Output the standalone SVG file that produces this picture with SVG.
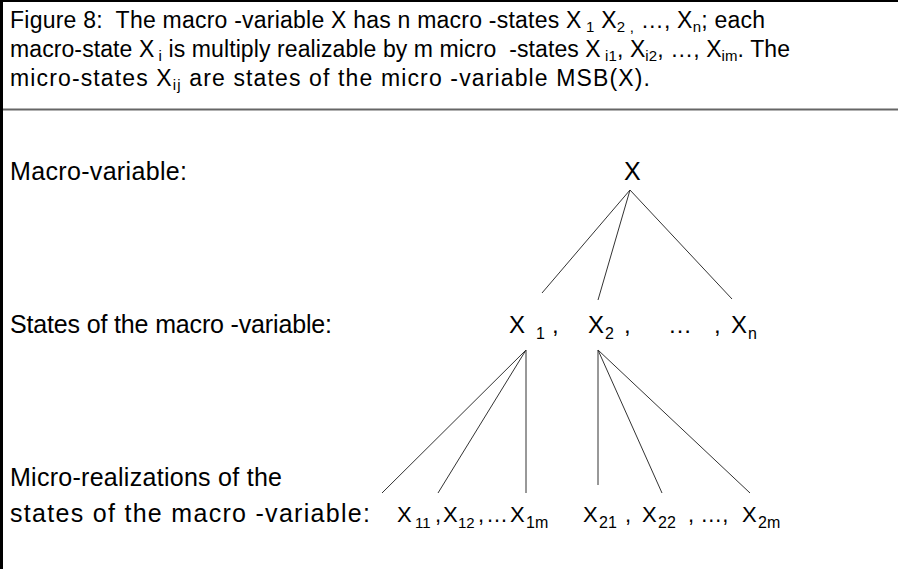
<svg xmlns="http://www.w3.org/2000/svg" width="898" height="569" viewBox="0 0 898 569">
<style>
text{font-family:"Liberation Sans",Arial,sans-serif;fill:#000;white-space:pre}
.h{font-size:23px}
.hs{font-size:15px}
.b{font-size:25px}
.t{font-size:24px}
.u{font-size:22px}
.s{font-size:16px}
.s2{font-size:15px}
.c{stroke:#333;stroke-width:1;fill:none}
</style>
<rect x="0" y="0" width="898" height="569" fill="#fff"/>
<g id="frame">
<line x1="0" y1="1" x2="898" y2="1" stroke="#000" stroke-width="2"/>
<line x1="1.5" y1="0" x2="1.5" y2="569" stroke="#000" stroke-width="3"/>
<line x1="3" y1="109.5" x2="898" y2="109.5" stroke="#666" stroke-width="2"/>
</g>
<g id="caption">
<text class="h" x="10" y="28" textLength="755" lengthAdjust="spacing">Figure 8:  The macro -variable X has n macro -states X<tspan class="hs" dy="4"> 1</tspan><tspan dy="-4"> X</tspan><tspan class="hs" dy="4">2 ,</tspan><tspan dy="-4"> …, X</tspan><tspan class="hs" dy="4">n</tspan><tspan dy="-4">; each</tspan></text>
<text class="h" x="10" y="57" textLength="780" lengthAdjust="spacing">macro-state X<tspan class="hs" dy="4"> i</tspan><tspan dy="-4"> is multiply realizable by m micro  -states X</tspan><tspan class="hs" dy="4"> i1</tspan><tspan dy="-4">, X</tspan><tspan class="hs" dy="4">i2</tspan><tspan dy="-4">, …, X</tspan><tspan class="hs" dy="4">im</tspan><tspan dy="-4">. The</tspan></text>
<text class="h" x="10" y="86" textLength="640" lengthAdjust="spacing">micro-states X<tspan class="hs" dy="4">ij</tspan><tspan dy="-4"> are states of the micro -variable MSB(X).</tspan></text>
</g>
<g id="labels">
<text class="b" x="10" y="180" textLength="177" lengthAdjust="spacing">Macro-variable:</text>
<text class="b" x="10" y="333" textLength="322" lengthAdjust="spacing">States of the macro -variable:</text>
<text class="b" x="10" y="486" textLength="272" lengthAdjust="spacing">Micro-realizations of the</text>
<text class="b" x="10" y="522" textLength="360" lengthAdjust="spacing">states of the macro -variable:</text>
</g>
<g id="connectors">
<line class="c" x1="630" y1="190" x2="542" y2="293"/>
<line class="c" x1="630" y1="190" x2="598" y2="300"/>
<line class="c" x1="630" y1="190" x2="732" y2="299"/>
<line class="c" x1="526" y1="350" x2="382" y2="493"/>
<line class="c" x1="526" y1="350" x2="438" y2="493"/>
<line class="c" x1="526" y1="350" x2="526" y2="493"/>
<line class="c" x1="598" y1="350" x2="598" y2="485"/>
<line class="c" x1="598" y1="350" x2="662" y2="493"/>
<line class="c" x1="598" y1="350" x2="750" y2="493"/>
</g>
<g id="node-X"><text class="b" x="624" y="180">X</text></g>
<g id="node-X1"><text class="t" y="333"><tspan x="509">X</tspan><tspan class="s" x="536" dy="6">1</tspan><tspan x="552" dy="-6">,</tspan></text></g>
<g id="node-X2"><text class="t" y="333"><tspan x="588">X</tspan><tspan class="s" x="605" dy="6">2</tspan><tspan x="624" dy="-6">,</tspan></text></g>
<g id="node-dots"><text class="t" x="668" y="333">…</text></g>
<g id="node-Xn"><text class="t" y="333"><tspan x="714">,</tspan><tspan x="731">X</tspan><tspan class="s" x="748" dy="6">n</tspan></text></g>
<g id="node-X11"><text class="u" y="522"><tspan x="397">X</tspan><tspan class="s2" x="415" dy="6">11</tspan><tspan x="435" dy="-6">,</tspan></text></g>
<g id="node-X12"><text class="u" y="522"><tspan x="443">X</tspan><tspan class="s2" x="458" dy="6">12</tspan><tspan x="478" dy="-6">,</tspan><tspan x="486">…</tspan></text></g>
<g id="node-X1m"><text class="u" y="522"><tspan x="510">X</tspan><tspan class="s" x="526" dy="6">1m</tspan></text></g>
<g id="node-X21"><text class="u" y="522"><tspan x="583">X</tspan><tspan class="s" x="599" dy="6">21</tspan><tspan x="625" dy="-6">,</tspan></text></g>
<g id="node-X22"><text class="u" y="522"><tspan x="642">X</tspan><tspan class="s" x="658" dy="6">22</tspan><tspan x="688" dy="-6">, …,</tspan></text></g>
<g id="node-X2m"><text class="u" y="522"><tspan x="742">X</tspan><tspan class="s" x="758" dy="6">2m</tspan></text></g>
</svg>
